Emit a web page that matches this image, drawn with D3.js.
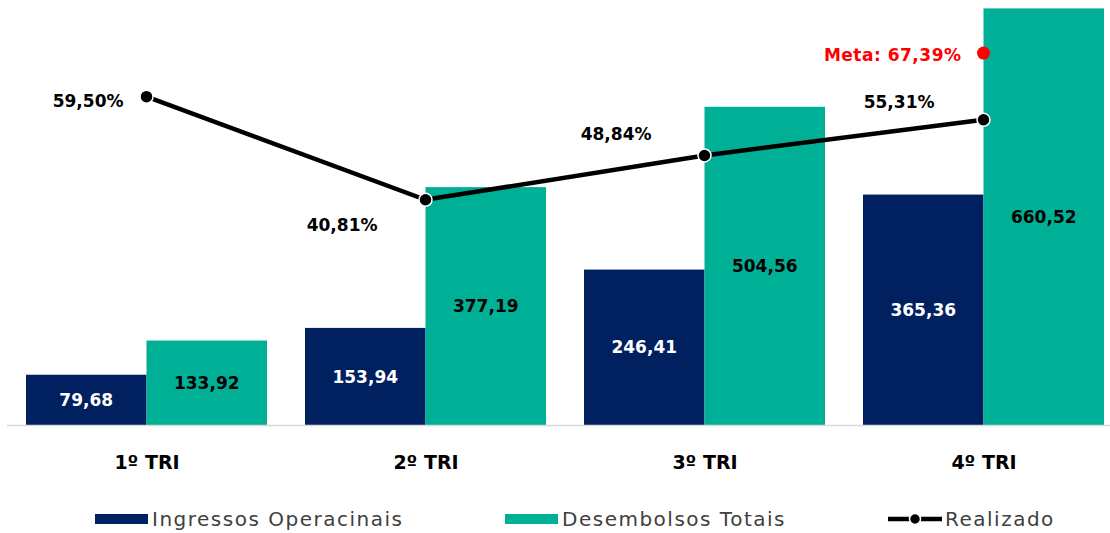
<!DOCTYPE html>
<html>
<head>
<meta charset="utf-8">
<script src="https://cdn.jsdelivr.net/npm/d3@7"></script>
<style>
  body { margin: 0; background: #fff; }
  svg { display: block; font-family: "DejaVu Sans", sans-serif; }
</style>
</head>
<body>
<div id="chart"></div>
<script>
// data
const quarters = ["1º TRI", "2º TRI", "3º TRI", "4º TRI"];
const ingressos = [79.68, 153.94, 246.41, 365.36];
const desembolsos = [133.92, 377.19, 504.56, 660.52];
const realizado = [59.50, 40.81, 48.84, 55.31];
const meta = 67.39;
const seriesNames = ["Ingressos Operacinais", "Desembolsos Totais", "Realizado"];

const colors = { ing: "#002060", des: "#00B096", line: "#000000", meta: "#FF0000" };

const width = 1110, height = 533;
const baseY = 425, plotTop = -16.5;
const fmt = v => v.toFixed(2).replace(".", ",");

const svg = d3.select("#chart").append("svg")
    .attr("width", width)
    .attr("height", height);

// scales
const x = d3.scalePoint().domain(quarters).range([146.5, 983.5]);
const barW = 120.5;
const yL = d3.scaleLinear().domain([0, 700]).range([baseY, plotTop]);
const yR = d3.scaleLinear().domain([0, 80]).range([baseY, plotTop]);

// bars
const groups = svg.selectAll(".grp")
    .data(quarters)
    .enter().append("g").attr("class", "grp");

groups.append("rect")
    .attr("x", d => x(d) - barW)
    .attr("y", (d, i) => yL(ingressos[i]))
    .attr("width", barW)
    .attr("height", (d, i) => baseY - yL(ingressos[i]))
    .attr("fill", colors.ing);

groups.append("rect")
    .attr("x", d => x(d))
    .attr("y", (d, i) => yL(desembolsos[i]))
    .attr("width", barW)
    .attr("height", (d, i) => baseY - yL(desembolsos[i]))
    .attr("fill", colors.des);

// bar labels, centered in bar
groups.append("text")
    .attr("x", d => x(d) - barW / 2)
    .attr("y", (d, i) => (yL(ingressos[i]) + baseY) / 2)
    .attr("dy", "0.36em")
    .attr("text-anchor", "middle")
    .attr("font-size", 17).attr("font-weight", "bold")
    .attr("fill", "#fff")
    .text((d, i) => fmt(ingressos[i]));

groups.append("text")
    .attr("x", d => x(d) + barW / 2)
    .attr("y", (d, i) => (yL(desembolsos[i]) + baseY) / 2)
    .attr("dy", "0.36em")
    .attr("text-anchor", "middle")
    .attr("font-size", 17).attr("font-weight", "bold")
    .attr("fill", "#000")
    .text((d, i) => fmt(desembolsos[i]));

// axis baseline
svg.append("line")
    .attr("x1", 7).attr("x2", width)
    .attr("y1", baseY + 0.5).attr("y2", baseY + 0.5)
    .attr("stroke", "#D9D9D9").attr("stroke-width", 1.5);

const xAxis = d3.axisBottom(x).tickSize(0).tickPadding(0);
svg.append("g")
    .attr("transform", `translate(0,${baseY})`)
    .call(xAxis)
    .call(g => g.select(".domain").remove())
    .selectAll("text")
    .attr("y", 37).attr("dy", "0.36em")
    .attr("font-family", "DejaVu Sans, sans-serif")
    .attr("font-size", 19).attr("font-weight", "bold")
    .attr("fill", "#000");

// line
const pts = quarters.map((q, i) => [x(q), yR(realizado[i])]);
svg.append("path")
    .attr("d", d3.line()(pts))
    .attr("fill", "none")
    .attr("stroke", colors.line)
    .attr("stroke-width", 4.5);

svg.selectAll(".dot")
    .data(pts)
    .enter().append("circle")
    .attr("cx", d => d[0]).attr("cy", d => d[1])
    .attr("r", 6.5)
    .attr("fill", colors.line)
    .attr("stroke", "#fff").attr("stroke-width", 1.5);

// percent labels (offsets from each point)
const labelOff = [[-23, 4], [-48, 25], [-53, -22], [-49, -18]];
svg.selectAll(".pct")
    .data(pts)
    .enter().append("text")
    .attr("x", (d, i) => d[0] + labelOff[i][0])
    .attr("y", (d, i) => d[1] + labelOff[i][1])
    .attr("dy", "0.36em")
    .attr("text-anchor", "end")
    .attr("font-size", 17).attr("font-weight", "bold")
    .attr("fill", "#000")
    .text((d, i) => fmt(realizado[i]) + "%");

// meta
const mx = x(quarters[3]), my = yR(meta);
svg.append("circle")
    .attr("cx", mx).attr("cy", my).attr("r", 6.5)
    .attr("fill", colors.meta);
svg.append("text")
    .attr("x", mx - 22).attr("y", my + 2)
    .attr("dy", "0.36em")
    .attr("text-anchor", "end")
    .attr("font-size", 17).attr("font-weight", "bold")
    .attr("letter-spacing", 0.5)
    .attr("fill", colors.meta)
    .text("Meta: " + fmt(meta) + "%");

// legend
const legX = [95, 505, 888];
const leg = svg.selectAll(".leg")
    .data(seriesNames)
    .enter().append("g")
    .attr("transform", (d, i) => `translate(${legX[i]},519)`);

leg.filter((d, i) => i < 2).append("rect")
    .attr("x", 0).attr("y", -5)
    .attr("width", 53).attr("height", 10)
    .attr("fill", (d, i) => i === 0 ? colors.ing : colors.des);

const lineLeg = leg.filter((d, i) => i === 2);
lineLeg.append("line")
    .attr("x1", 0).attr("x2", 54).attr("y1", 0).attr("y2", 0)
    .attr("stroke", "#000").attr("stroke-width", 4.5);
lineLeg.append("circle")
    .attr("cx", 27).attr("cy", 0).attr("r", 5.5)
    .attr("fill", "#000").attr("stroke", "#fff").attr("stroke-width", 1.5);

leg.append("text")
    .attr("x", 57).attr("y", 0).attr("dy", "0.36em")
    .attr("font-size", 20)
    .attr("letter-spacing", 1.5)
    .attr("fill", "#404040")
    .text(d => d);
</script>
</body>
</html>
